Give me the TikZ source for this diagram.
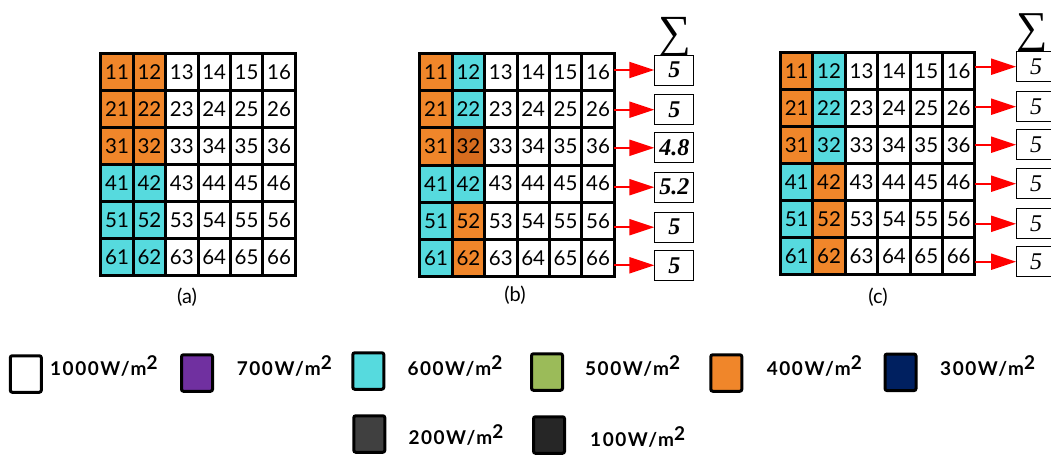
\documentclass[tikz,border=0pt]{standalone}
\usepackage{fontspec}
\setmainfont{Lato}
\newfontfamily\sumfont{Liberation Serif}
\usetikzlibrary{arrows.meta}

\definecolor{sunorange}{RGB}{240,134,42}
\definecolor{suncyan}{RGB}{86,218,222}
\definecolor{darkorange}{RGB}{214,108,30}
\definecolor{lgpurple}{RGB}{112,48,160}
\definecolor{lggreen}{RGB}{155,187,89}
\definecolor{lgnavy}{RGB}{0,32,96}
\definecolor{lggrey}{RGB}{64,64,64}
\definecolor{lgblack}{RGB}{38,38,38}

\tikzset{
  cell/.style={draw=black, line width=3pt, minimum width=32.4pt, minimum height=37.1pt,
    inner sep=0pt, outer sep=0pt, font=\fontsize{20.5}{20.5}\selectfont},
  sumbox/.style={draw=black, line width=0.9pt, minimum width=39pt, minimum height=30pt,
    inner sep=0pt, fill=white},
  sumarrow/.style={draw=red, line width=2pt,
    -{Triangle[length=25pt,width=16pt,fill=red]}},
  sigma/.style={inner sep=0pt, anchor=base},
  caption/.style={inner sep=0pt, font=\fontsize{20}{20}\selectfont},
  swatch/.style={draw=black, line width=3pt, rounded corners=2pt,
    minimum width=31pt, minimum height=36.5pt, inner sep=0pt},
  swtext/.style={anchor=base west, inner sep=0pt,
    font=\fontsize{19}{19}\selectfont\bfseries\addfontfeatures{LetterSpace=8}},
}

% 6x6 panel: #1 name prefix, #2/#3 top-left corner, #4 list row/col1 colour/col2 colour
\newcommand{\cellpanel}[4]{%
  \foreach \r/\ca/\cb in {#4} {
    \foreach \c in {1,...,6} {
      \def\cellfill{white}%
      \ifnum\c=1 \let\cellfill\ca\fi
      \ifnum\c=2 \let\cellfill\cb\fi
      \node[cell, fill=\cellfill] (#1\r\c) at ({#2+(\c-0.5)*32.4}, {#3+(\r-0.5)*37.1}) {\r\c};
    }
  }
}

\newcommand{\wm}[1]{#1W/m\raisebox{6pt}{2}}

\begin{document}
\begin{tikzpicture}[x=1pt, y=-1pt]
\useasboundingbox (0,0) rectangle (1051,457);

% panel (a)
\cellpanel{a}{100.8}{53.2}{1/sunorange/sunorange,2/sunorange/sunorange,3/sunorange/sunorange,
  4/suncyan/suncyan,5/suncyan/suncyan,6/suncyan/suncyan}
\node[caption] (capa) at (187,297) {(a)};

% panel (b)
\cellpanel{b}{419.8}{53.8}{1/sunorange/suncyan,2/sunorange/suncyan,3/sunorange/darkorange,
  4/suncyan/suncyan,5/suncyan/sunorange,6/suncyan/sunorange}
\node[caption] (capb) at (515,295) {(b)};

\node[sigma, font=\sumfont\fontsize{46}{46}\selectfont] (bsig) at (675,47.5) {∑};
\foreach \i/\y/\v in {1/70/5, 2/109.7/5, 3/147.8/4.8, 4/187.2/5.2, 5/227.2/5, 6/265.3/5} {
  \node[sumbox, font=\sumfont\fontsize{24}{24}\selectfont\bfseries\itshape] (bs\i) at (674.3,\y) {\v};
  \draw[sumarrow] (b\i6.east |- bs\i.west) -- (bs\i.west);
}

% panel (c)
\cellpanel{c}{780.5}{52.2}{1/sunorange/suncyan,2/sunorange/suncyan,3/sunorange/suncyan,
  4/suncyan/sunorange,5/suncyan/sunorange,6/suncyan/sunorange}
\node[caption] (capc) at (878,297) {(c)};

\node[sigma, font=\sumfont\fontsize{44}{44}\selectfont] (csig) at (1032,43) {∑};
\foreach \i/\y in {1/66.7, 2/106.7, 3/144.7, 4/183.7, 5/223.8, 6/261.7} {
  \node[sumbox, font=\sumfont\fontsize{24}{24}\selectfont\itshape] (cs\i) at (1036,\y) {5};
  \draw[sumarrow] (c\i6.east |- cs\i.west) -- (cs\i.west);
}

% legend
\node[swatch, fill=white]      (lg1) at (25.8,374)  {};
\node[swtext] (lt1) at (50,375)    {\wm{1000}};
\node[swatch, fill=lgpurple]   (lg2) at (197,373)   {};
\node[swtext] (lt2) at (236.7,375) {\wm{700}};
\node[swatch, fill=suncyan]    (lg3) at (368.3,371) {};
\node[swtext] (lt3) at (407.3,375) {\wm{600}};
\node[swatch, fill=lggreen]    (lg4) at (547,372)   {};
\node[swtext] (lt4) at (585,375)   {\wm{500}};
\node[swatch, fill=sunorange]  (lg5) at (726.3,373) {};
\node[swtext] (lt5) at (766.7,375) {\wm{400}};
\node[swatch, fill=lgnavy]     (lg6) at (900.5,372.3) {};
\node[swtext] (lt6) at (940,375)   {\wm{300}};
\node[swatch, fill=lggrey]     (lg7) at (369.3,434) {};
\node[swtext] (lt7) at (408.3,444) {\wm{200}};
\node[swatch, fill=lgblack]    (lg8) at (549,435)   {};
\node[swtext] (lt8) at (590,446)   {\wm{100}};
\end{tikzpicture}
\end{document}
